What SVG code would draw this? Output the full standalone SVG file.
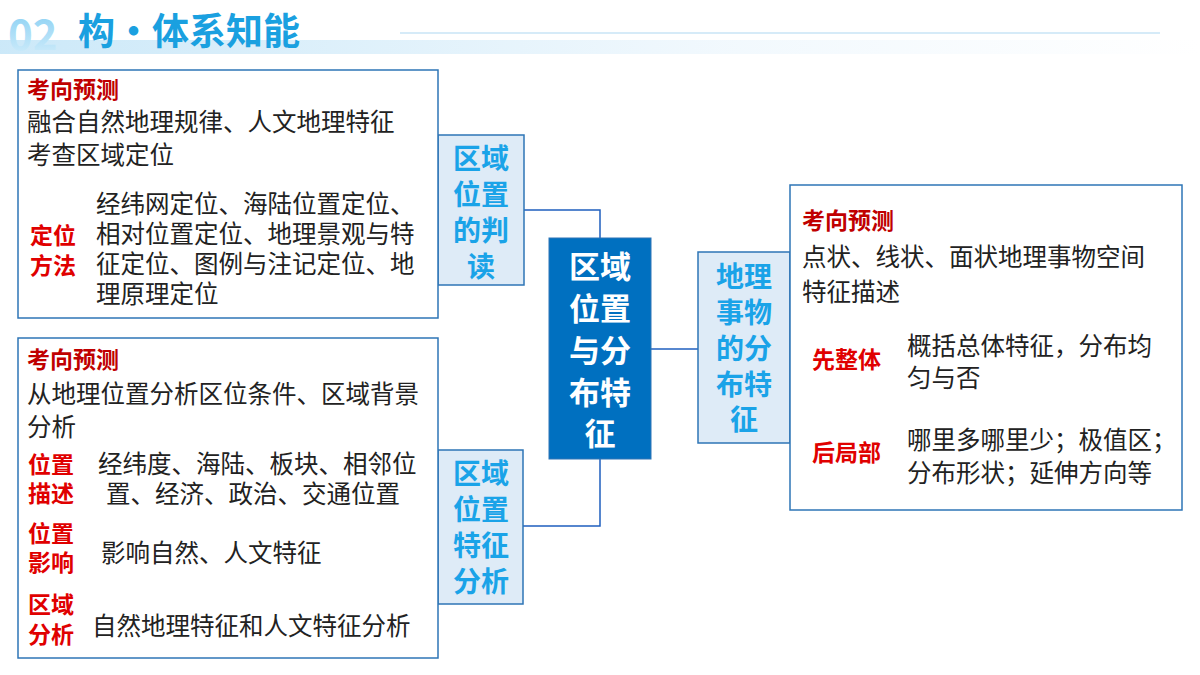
<svg xmlns="http://www.w3.org/2000/svg" width="1200" height="675" viewBox="0 0 1200 675">
<defs>
<linearGradient id="hg" x1="0" y1="0" x2="1" y2="0"><stop offset="0" stop-color="#bfe3f7"/><stop offset="0.6" stop-color="#eef7fd"/><stop offset="1" stop-color="#ffffff"/></linearGradient>
<linearGradient id="ng" x1="0" y1="0" x2="0" y2="1"><stop offset="0" stop-color="#7ccbf2"/><stop offset="1" stop-color="#d8effb"/></linearGradient>
</defs>
<style>
text{font-family:"Noto Sans CJK SC","Liberation Sans",sans-serif}
.box{fill:#fff;stroke:#2e75b6;stroke-width:1.5}
.lab{fill:#deebf7;stroke:#2e75b6;stroke-width:1.5}
.lt{fill:#1aa3e8;font-size:28px;font-weight:bold;text-anchor:middle}
.c{fill:#fff;font-size:31px;font-weight:bold;text-anchor:middle}
.t{fill:#222;font-size:24.5px}
.h{fill:#c00000;font-size:23px;font-weight:bold}
.r{fill:#e00000;font-size:23px;font-weight:bold}
.con{fill:none;stroke:#1f5fbf;stroke-width:1.5}
</style>
<rect width="1200" height="675" fill="#fff"/>
<rect x="0" y="40" width="1200" height="14" fill="url(#hg)" opacity="0.8"/>
<line x1="400" y1="33" x2="1160" y2="33" stroke="#d6ebf8" stroke-width="2"/>
<text x="8" y="50" font-size="42" font-weight="bold" fill="url(#ng)" font-family="Liberation Sans,sans-serif">02</text>
<text x="78" y="45" font-size="37" font-weight="bold" fill="#1aa0e0">构·体系知能</text>
<g id="connectors">
<polyline class="con" points="524,210 600,210 600,238"/>
<polyline class="con" points="600,459 600,526 523,526"/>
<polyline class="con" points="651,349 698,349"/>
</g>
<g id="center">
<rect x="549" y="238" width="102" height="221" fill="#0070c0" stroke="#2e75b6"/>
<text class="c" x="600" y="278">区域</text>
<text class="c" x="600" y="320">位置</text>
<text class="c" x="600" y="362">与分</text>
<text class="c" x="600" y="404">布特</text>
<text class="c" x="600" y="445">征</text>
</g>
<g id="label1">
<rect class="lab" x="438" y="135" width="86" height="150"/>
<text class="lt" x="481" y="169">区域</text>
<text class="lt" x="481" y="205">位置</text>
<text class="lt" x="481" y="241">的判</text>
<text class="lt" x="481" y="277">读</text>
</g>
<g id="label2">
<rect class="lab" x="438" y="450" width="85" height="154"/>
<text class="lt" x="481" y="484">区域</text>
<text class="lt" x="481" y="520">位置</text>
<text class="lt" x="481" y="556">特征</text>
<text class="lt" x="481" y="592">分析</text>
</g>
<g id="label3">
<rect class="lab" x="698" y="252" width="92" height="191"/>
<text class="lt" x="744" y="287">地理</text>
<text class="lt" x="744" y="323">事物</text>
<text class="lt" x="744" y="359">的分</text>
<text class="lt" x="744" y="395">布特</text>
<text class="lt" x="744" y="430">征</text>
</g>
<g id="box1">
<rect class="box" x="18" y="70" width="420" height="248"/>
<text class="h" x="27" y="98">考向预测</text>
<text class="t" x="27" y="131">融合自然地理规律、人文地理特征</text>
<text class="t" x="27" y="164">考查区域定位</text>
<text class="r" x="30" y="244">定位</text>
<text class="r" x="30" y="274">方法</text>
<text class="t" x="96" y="213">经纬网定位、海陆位置定位、</text>
<text class="t" x="96" y="243">相对位置定位、地理景观与特</text>
<text class="t" x="96" y="273">征定位、图例与注记定位、地</text>
<text class="t" x="96" y="303">理原理定位</text>
</g>
<g id="box2">
<rect class="box" x="18" y="338" width="420" height="320"/>
<text class="h" x="27" y="368">考向预测</text>
<text class="t" x="27" y="403">从地理位置分析区位条件、区域背景</text>
<text class="t" x="27" y="436">分析</text>
<text class="r" x="28" y="473">位置</text>
<text class="r" x="28" y="502">描述</text>
<text class="t" x="98" y="473">经纬度、海陆、板块、相邻位</text>
<text class="t" x="106" y="503">置、经济、政治、交通位置</text>
<text class="r" x="28" y="542">位置</text>
<text class="r" x="28" y="571">影响</text>
<text class="t" x="101" y="562">影响自然、人文特征</text>
<text class="r" x="28" y="613">区域</text>
<text class="r" x="28" y="643">分析</text>
<text class="t" x="92" y="635">自然地理特征和人文特征分析</text>
</g>
<g id="box3">
<rect class="box" x="790" y="185" width="392" height="325"/>
<text class="h" x="802" y="229">考向预测</text>
<text class="t" x="802" y="266">点状、线状、面状地理事物空间</text>
<text class="t" x="802" y="301">特征描述</text>
<text class="r" x="812" y="368">先整体</text>
<text class="t" x="907" y="355">概括总体特征，分布均</text>
<text class="t" x="907" y="387">匀与否</text>
<text class="r" x="812" y="461">后局部</text>
<text class="t" x="907" y="449">哪里多哪里少；极值区；</text>
<text class="t" x="907" y="482">分布形状；延伸方向等</text>
</g>
</svg>
